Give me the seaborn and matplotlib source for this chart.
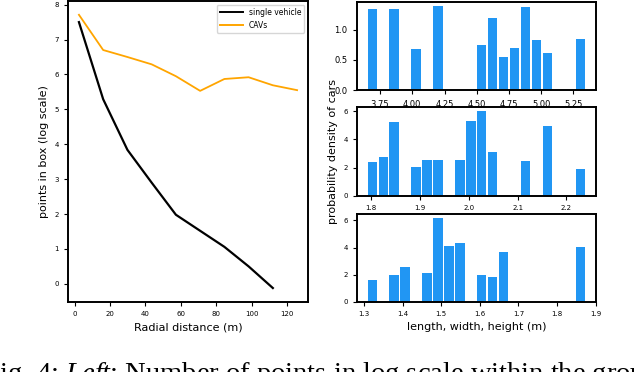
import numpy as np
import pandas as pd
import matplotlib
matplotlib.use("Agg")
import matplotlib.pyplot as plt
import seaborn as sns

# -----------------------------
# Datos: puntos por caja frente a distancia radial (escala log)
# -----------------------------
radial_single = [2.4, 16.1, 29.8, 43.5, 57.2, 70.9, 84.6, 98.3, 112.0]
points_single = [7.50, 5.29, 3.84, 2.90, 1.98, 1.52, 1.06, 0.50, -0.12]

radial_cavs = [2.4, 16.1, 29.8, 43.5, 57.2, 70.9, 84.6, 98.3, 112.0, 125.7]
points_cavs = [7.71, 6.70, 6.50, 6.29, 5.95, 5.53, 5.87, 5.92, 5.69, 5.55]

# -----------------------------
# Histogramas (20 bins): rango de datos y densidad por bin
# -----------------------------
length_range = (3.647, 5.347)
length_density = [1.34, 0, 1.34, 0, 0.68, 0, 1.39, 0, 0, 0,
                  0.75, 1.19, 0.55, 0.70, 1.38, 0.83, 0.61, 0, 0, 0.85]

width_range = (1.791, 2.240)
width_density = [2.41, 2.76, 5.26, 0, 2.05, 2.55, 2.55, 0, 2.55, 5.34,
                 5.98, 3.12, 0, 0, 2.48, 0, 4.98, 0, 0, 1.91]

height_range = (1.307, 1.875)
height_density = [1.60, 0, 1.97, 2.56, 0, 2.11, 6.17, 4.10, 4.33, 0,
                  1.97, 1.82, 3.66, 0, 0, 0, 0, 0, 0, 4.03]

BAR_COLOR = "#2196f3"

plt.rcParams["axes.linewidth"] = 1.4

fig = plt.figure(figsize=(6.34, 3.72), dpi=100)

# -----------------------------
# Panel izquierdo: líneas
# -----------------------------
ax = fig.add_axes([0.1073, 0.189, 0.3785, 0.808])
df = pd.concat([
    pd.DataFrame({"r": radial_single, "p": points_single, "tipo": "single vehicle"}),
    pd.DataFrame({"r": radial_cavs, "p": points_cavs, "tipo": "CAVs"}),
])
sns.lineplot(data=df, x="r", y="p", hue="tipo",
             palette={"single vehicle": "black", "CAVs": "orange"},
             ax=ax, linewidth=1.4)
ax.lines[0].set_linewidth(1.6)
ax.lines[1].set_linewidth(1.3)
ax.set_xticks(range(0, 121, 20))
ax.set_yticks(range(0, 9))
ax.tick_params(labelsize=5, length=3, width=0.8)
ax.set_xlabel("Radial distance (m)", fontsize=8)
ax.set_ylabel("points in box (log scale)", fontsize=8)
ax.legend(loc="upper right", fontsize=5.5, frameon=True, handlelength=3)

# -----------------------------
# Panel derecho: tres histogramas
# -----------------------------
specs = [
    ([0.5626, 0.758, 0.3775, 0.2366], length_range, length_density, 6),
    ([0.5626, 0.474, 0.3775, 0.2376], width_range, width_density, 5),
    ([0.5626, 0.189, 0.3775, 0.2358], height_range, height_density, 5),
]
hist_axes = []
for rect, (lo, hi), dens, fs in specs:
    hax = fig.add_axes(rect)
    edges = np.linspace(lo, hi, len(dens) + 1)
    hdf = pd.DataFrame({"v": (edges[:-1] + edges[1:]) / 2, "w": dens})
    sns.histplot(data=hdf, x="v", weights="w", bins=edges.tolist(), shrink=0.85,
                 color=BAR_COLOR, alpha=1, linewidth=0, ax=hax)
    hax.set_ylabel("")
    hax.set_xlabel("")
    hax.tick_params(labelsize=fs, length=3, width=0.8)
    hist_axes.append(hax)

hist_axes[0].set_xticks([3.75, 4.00, 4.25, 4.50, 4.75, 5.00, 5.25])
hist_axes[0].set_yticks([0.0, 0.5, 1.0])
hist_axes[0].tick_params(axis="x", pad=4)
hist_axes[1].set_xticks([1.8, 1.9, 2.0, 2.1, 2.2])
hist_axes[1].set_yticks([0, 2, 4, 6])
hist_axes[1].tick_params(axis="x", pad=4)
hist_axes[2].set_xticks([1.3, 1.4, 1.5, 1.6, 1.7, 1.8, 1.9])
hist_axes[2].set_yticks([0, 2, 4, 6])
hist_axes[1].set_ylabel("probability density of cars", fontsize=8)
hist_axes[2].set_xlabel("length, width, height (m)", fontsize=8)

# -----------------------------
# Pie de figura (recortado)
# -----------------------------
plt.rcParams["mathtext.fontset"] = "custom"
plt.rcParams["mathtext.it"] = "Liberation Serif:italic"
plt.rcParams["mathtext.rm"] = "Liberation Serif"
fig.text(-0.025, -0.024, r"Fig. 4: $\mathit{Left}$: Number of points in log scale within the ground",
         fontsize=20.5, family="Liberation Serif", va="baseline", ha="left")

fig.savefig("out.png", dpi=100)
